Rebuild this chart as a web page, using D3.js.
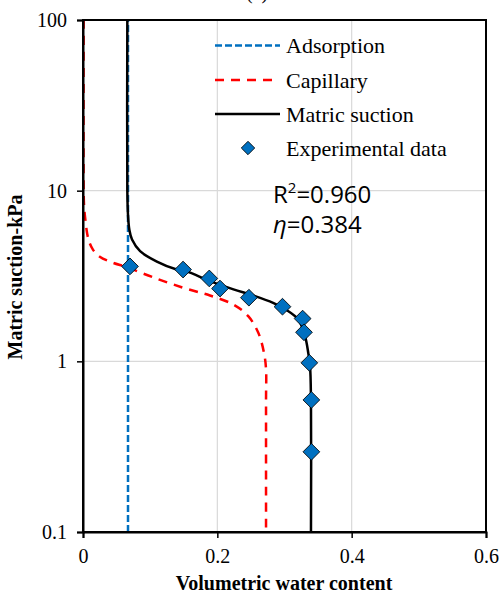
<!DOCTYPE html>
<html>
<head>
<meta charset="utf-8">
<script src="https://cdn.jsdelivr.net/npm/d3@7"></script>
<style>
  html, body { margin: 0; padding: 0; background: #fff; }
  svg { display: block; }
  .serif { font-family: "Liberation Serif", "Times New Roman", Times, "DejaVu Serif", serif; }
</style>
</head>
<body>
<div id="chart"></div>
<script>
// series as [volumetric water content, matric suction kPa]
const adsorption = [[0.067, 0.1], [0.067, 100]];
const capillary = [
  [0.001, 100], [0.001, 10], [0.0015, 8.3], [0.003, 7.05], [0.008, 5.2], [0.015, 4.5],
  [0.025, 4.1], [0.043, 3.8], [0.066, 3.55], [0.105, 3.1], [0.149, 2.7], [0.189, 2.43],
  [0.224, 2.15], [0.246, 1.84], [0.261, 1.47], [0.2695, 1.12], [0.2725, 0.9],
  [0.2725, 0.6], [0.2725, 0.1]
];
const matric = [
  [0.066, 100], [0.066, 10], [0.067, 7.2], [0.069, 5.9], [0.073, 5.17], [0.085, 4.42],
  [0.110, 3.84], [0.1395, 3.45], [0.154, 3.37], [0.189, 2.95], [0.224, 2.64],
  [0.2535, 2.43], [0.283, 2.2], [0.303, 2.0], [0.3205, 1.76], [0.3305, 1.41],
  [0.3354, 1.12], [0.338, 0.94], [0.3394, 0.6], [0.3394, 0.1]
];
const experimental = [
  [0.070, 3.6], [0.149, 3.45], [0.188, 3.06], [0.204, 2.67], [0.247, 2.36],
  [0.297, 2.09], [0.327, 1.78], [0.329, 1.48], [0.337, 0.98], [0.340, 0.594], [0.340, 0.295]
];
const xTicks = [0, 0.2, 0.4, 0.6];
const yTicks = [0.1, 1, 10, 100];
const legendItems = ["Adsorption", "Capillary", "Matric suction", "Experimental data"];

const W = 499, H = 595;
const margin = {top: 20, right: 13, bottom: 63, left: 83};
const width = W - margin.left - margin.right;
const height = H - margin.top - margin.bottom;

const svg = d3.select("#chart").append("svg")
  .attr("width", W)
  .attr("height", H);

// panel title, mostly above the top edge as in the original
svg.append("text")
  .attr("class", "serif")
  .attr("x", 257).attr("y", -1)
  .attr("text-anchor", "middle")
  .style("font-size", "20px")
  .text("(a)");

const g = svg.append("g")
  .attr("transform", `translate(${margin.left},${margin.top})`);

const x = d3.scaleLinear().domain([0, 0.6]).range([0, width]);
const y = d3.scaleLog().domain([0.1, 100]).range([height, 0]);

// gridlines
g.append("g").selectAll("line")
  .data(yTicks.slice(1, -1)).join("line")
  .attr("x1", 0).attr("x2", width)
  .attr("y1", d => y(d)).attr("y2", d => y(d))
  .attr("stroke", "#d9d9d9").attr("stroke-width", 1.2);
g.append("g").selectAll("line")
  .data(xTicks.slice(1, -1)).join("line")
  .attr("y1", 0).attr("y2", height)
  .attr("x1", d => x(d)).attr("x2", d => x(d))
  .attr("stroke", "#d9d9d9").attr("stroke-width", 1.2);

const line = d3.line()
  .x(d => x(d[0]))
  .y(d => y(d[1]))
  .curve(d3.curveCatmullRom.alpha(0.5));

g.append("path").datum(adsorption)
  .attr("d", line).attr("fill", "none")
  .attr("stroke", "#0070C0").attr("stroke-width", 2.5)
  .attr("stroke-dasharray", "7,3");

g.append("path").datum(capillary)
  .attr("d", line).attr("fill", "none")
  .attr("stroke", "#FF0000").attr("stroke-width", 2.5)
  .attr("stroke-dasharray", "9,7");

g.append("path").datum(matric)
  .attr("d", line).attr("fill", "none")
  .attr("stroke", "#000").attr("stroke-width", 2.5);

const diamond = d3.symbol().type(d3.symbolSquare).size(140);
g.selectAll("path.pt").data(experimental).join("path")
  .attr("class", "pt")
  .attr("d", diamond)
  .attr("transform", d => `translate(${x(d[0])},${y(d[1])}) rotate(45)`)
  .attr("fill", "#0070C0").attr("stroke", "#000").attr("stroke-width", 0.8);

// frame
g.append("rect")
  .attr("width", width).attr("height", height)
  .attr("fill", "none").attr("stroke", "#000").attr("stroke-width", 2);

// axes
const xAxis = d3.axisBottom(x).tickValues(xTicks).tickFormat(d3.format("")).tickSize(6).tickPadding(11);
const yAxis = d3.axisLeft(y).tickValues(yTicks).tickFormat(d => String(d)).tickSize(6).tickPadding(10);

const gx = g.append("g").attr("transform", `translate(0,${height})`).call(xAxis);
const gy = g.append("g").call(yAxis);
[gx, gy].forEach(a => {
  a.attr("font-family", null).attr("font-size", null);
  a.select(".domain").attr("stroke", "#000").attr("stroke-width", 2);
  a.selectAll(".tick line").attr("stroke", "#000").attr("stroke-width", 1.5);
  a.selectAll(".tick text")
    .attr("class", "serif")
    .style("font-size", "20px")
    .attr("fill", "#000");
});

// axis titles
svg.append("text")
  .attr("class", "serif")
  .attr("x", 284).attr("y", 590)
  .attr("text-anchor", "middle")
  .style("font-size", "20px").style("font-weight", "bold")
  .text("Volumetric water content");

svg.append("text")
  .attr("class", "serif")
  .attr("transform", "translate(22,277) rotate(-90)")
  .attr("text-anchor", "middle")
  .style("font-size", "20px").style("font-weight", "bold")
  .text("Matric suction-kPa");

// legend
const legend = svg.append("g");
const ly = [45.5, 80, 114, 148];
legend.append("line").attr("x1", 215).attr("x2", 280).attr("y1", ly[0]).attr("y2", ly[0])
  .attr("stroke", "#0070C0").attr("stroke-width", 2.5).attr("stroke-dasharray", "7,3");
legend.append("line").attr("x1", 215).attr("x2", 272).attr("y1", ly[1]).attr("y2", ly[1])
  .attr("stroke", "#FF0000").attr("stroke-width", 2.5).attr("stroke-dasharray", "9,7");
legend.append("line").attr("x1", 215).attr("x2", 280).attr("y1", ly[2]).attr("y2", ly[2])
  .attr("stroke", "#000").attr("stroke-width", 2.5);
legend.append("path").attr("d", d3.symbol().type(d3.symbolSquare).size(90))
  .attr("transform", `translate(248,${ly[3]}) rotate(45)`)
  .attr("fill", "#0070C0").attr("stroke", "#000").attr("stroke-width", 0.8);
legend.selectAll("text").data(legendItems).join("text")
  .attr("class", "serif")
  .attr("x", 286).attr("y", (d, i) => ly[i] + 7.5)
  .style("font-size", "22px")
  .text(d => d);

// fit annotation
const ann = svg.append("g")
  .style("font-family", "'Open Sans', sans-serif")
  .style("font-size", "24px");
const r2 = ann.append("text").attr("x", 273).attr("y", 203);
r2.append("tspan").text("R");
r2.append("tspan").attr("dy", -10).style("font-size", "15px").text("2");
r2.append("tspan").attr("dy", 10).text("=0.960");
const eta = ann.append("text").attr("x", 273).attr("y", 233);
eta.append("tspan").style("font-style", "italic").text("η");
eta.append("tspan").text("=0.384");
</script>
</body>
</html>
